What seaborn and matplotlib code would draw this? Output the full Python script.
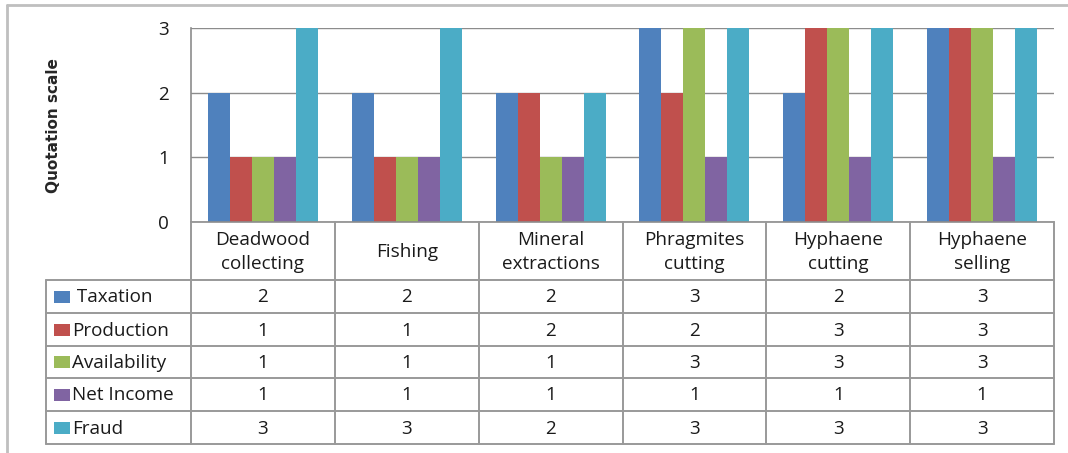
import matplotlib
matplotlib.use("Agg")
import matplotlib.pyplot as plt
from matplotlib.patches import Rectangle
from matplotlib.lines import Line2D
import pandas as pd
import seaborn as sns

# Activities (categories) and their quotation scores per criterion
activities = ["Deadwood\ncollecting", "Fishing", "Mineral\nextractions",
              "Phragmites\ncutting", "Hyphaene\ncutting", "Hyphaene\nselling"]
criteria = ["Taxation", "Production", "Availability", "Net Income", "Fraud"]
taxation = [2, 2, 2, 3, 2, 3]
production = [1, 1, 2, 2, 3, 3]
availability = [1, 1, 1, 3, 3, 3]
net_income = [1, 1, 1, 1, 1, 1]
fraud = [3, 3, 2, 3, 3, 3]
y_ticks = [0, 1, 2, 3]

colors = ["#4F81BD", "#C0504D", "#9BBB59", "#8064A2", "#4BACC6"]
series = [taxation, production, availability, net_income, fraud]

df = pd.DataFrame({
    "activity": [a for _ in criteria for a in activities],
    "criterion": [c for c in criteria for _ in activities],
    "score": [v for s in series for v in s],
})

sns.set_theme(style="white")
plt.rcParams["font.family"] = ["Open Sans", "DejaVu Sans"]

W, H = 1068, 453
fig = plt.figure(figsize=(W / 100, H / 100), dpi=100)

# layout in pixels
px_left, px_right = 191, 1054
px_top, px_zero = 28, 222
tbl_left = 46
row_edges = [280, 313, 346, 378, 411, 444]
fs = 13.6
txt_c = "#1a1a1a"

ax = fig.add_axes([px_left / W, 1 - px_zero / H,
                   (px_right - px_left) / W, (px_zero - px_top) / H])
sns.barplot(data=df, x="activity", y="score", hue="criterion",
            order=activities, hue_order=criteria, palette=colors,
            saturation=1, width=0.765, gap=0, linewidth=0, ax=ax, legend=False)
ax.set_xlim(-0.5, len(activities) - 0.5)
ax.set_ylim(0, 3)
ax.set_yticks(y_ticks)
ax.set_yticklabels([str(t) for t in y_ticks], fontsize=fs, color=txt_c)
ax.tick_params(axis="y", length=0, pad=16)
ax.set_xticks([])
ax.set_xlabel("")
ax.set_ylabel("")
ax.yaxis.grid(True, color="#8c8c8c", linewidth=1.0)
ax.set_axisbelow(True)
for side in ["top", "right"]:
    ax.spines[side].set_visible(False)
for side in ["left", "bottom"]:
    ax.spines[side].set_color("#8c8c8c")
    ax.spines[side].set_linewidth(1.2)

fig.text(54 / W, 1 - 126 / H, "Quotation scale", rotation=90,
         ha="center", va="center", fontsize=11, fontweight="bold",
         family=["DejaVu Sans"])

# overlay in pixel coordinates for the data table and frame
ov = fig.add_axes([0, 0, 1, 1])
ov.set_xlim(0, W)
ov.set_ylim(H, 0)
ov.axis("off")

# outer chart frame
ov.add_line(Line2D([7, 7], [5, H], color="#bfbfbf", linewidth=2))
ov.add_line(Line2D([7, W], [5, 5], color="#bfbfbf", linewidth=2))

grid_c = "#999999"
lw = 1.4
n = len(activities)
col_w = (px_right - px_left) / n
col_edges = [px_left + k * col_w for k in range(n + 1)]

# header row (category names)
for x in col_edges:
    ov.add_line(Line2D([x, x], [px_zero, row_edges[-1]], color=grid_c, linewidth=lw))
for k, name in enumerate(activities):
    cx = (col_edges[k] + col_edges[k + 1]) / 2
    ov.text(cx, (px_zero + row_edges[0]) / 2 + 1, name, ha="center", va="center",
            fontsize=fs, color=txt_c, linespacing=1.4)

# body rows
for y in row_edges:
    ov.add_line(Line2D([tbl_left, px_right], [y, y], color=grid_c, linewidth=lw))
ov.add_line(Line2D([tbl_left, tbl_left], [row_edges[0], row_edges[-1]],
                   color=grid_c, linewidth=lw))

for r, (crit, vals, col) in enumerate(zip(criteria, series, colors)):
    y0, y1 = row_edges[r], row_edges[r + 1]
    cy = (y0 + y1) / 2
    ov.add_patch(Rectangle((54, cy - 6), 16, 12, facecolor=col, edgecolor="none"))
    label = (" " + crit) if r == 0 else crit
    ov.text(72, cy + 1, label, ha="left", va="center", fontsize=fs, color=txt_c)
    for k, v in enumerate(vals):
        cx = (col_edges[k] + col_edges[k + 1]) / 2
        ov.text(cx, cy + 1, str(v), ha="center", va="center",
                fontsize=fs, color=txt_c)

fig.savefig("out.png", dpi=100, facecolor="white")
